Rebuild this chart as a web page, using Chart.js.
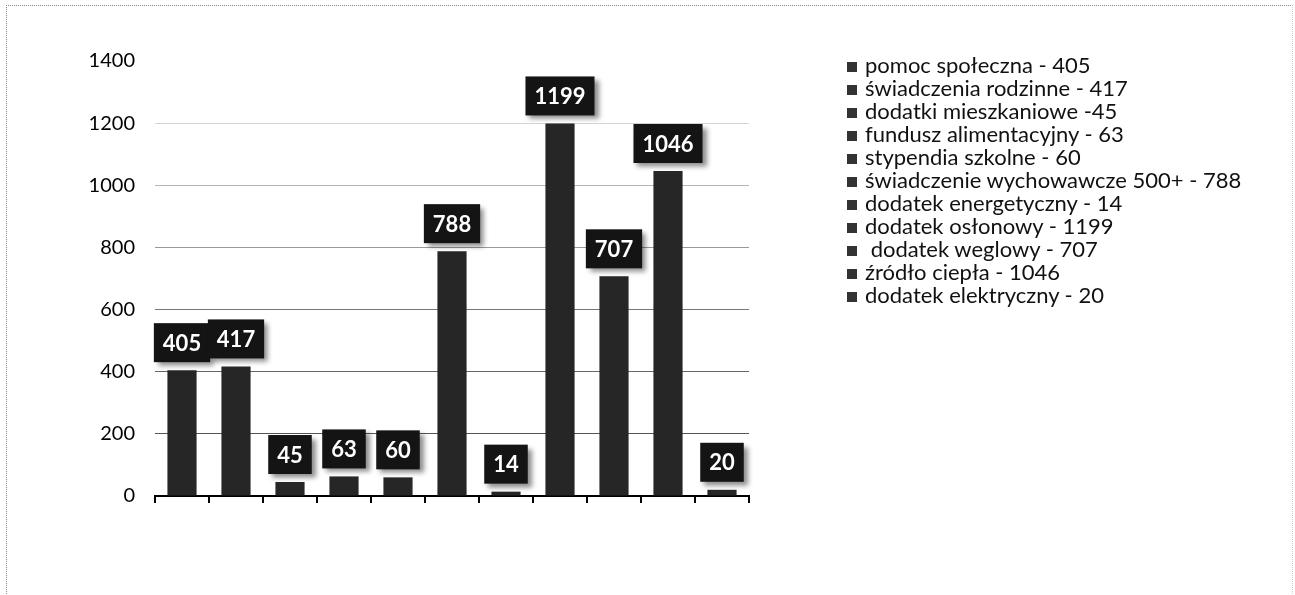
<!DOCTYPE html>
<html>
<head>
<meta charset="utf-8">
<script src="https://cdn.jsdelivr.net/npm/chart.js@4"></script>
<style>
html, body { margin: 0; padding: 0; background: #fff; }
#wrap { position: relative; width: 1295px; height: 595px; overflow: hidden; }
#frame { position: absolute; left: 6px; top: 5px; width: 1285px; height: 620px;
  border-top: 1px dotted #888; border-left: 1px dotted #888; border-right: 1px dotted #ccc; }
canvas { position: absolute; left: 0; top: 0; }
#legend { position: absolute; left: 847px; top: 53px; font-family: Lato, sans-serif;
  font-size: 22px; line-height: 23px; color: #111; white-space: pre; }
#legend .sw { display: inline-block; width: 10px; height: 10px; background: #333;
  margin-right: 8px; vertical-align: 1px; }
</style>
</head>
<body>
<div id="wrap">
  <div id="frame"></div>
  <canvas id="chart" width="1295" height="595"></canvas>
  <div id="legend"></div>
</div>
<script>
// dane z wykresu
const categories = [
  'pomoc społeczna - 405',
  'świadczenia rodzinne - 417',
  'dodatki mieszkaniowe -45',
  'fundusz alimentacyjny - 63',
  'stypendia szkolne - 60',
  'świadczenie wychowawcze 500+ - 788',
  'dodatek energetyczny - 14',
  'dodatek osłonowy - 1199',
  ' dodatek weglowy - 707',
  'źródło ciepła - 1046',
  'dodatek elektryczny - 20'
];
const values = [405, 417, 45, 63, 60, 788, 14, 1199, 707, 1046, 20];
const yTicks = [0, 200, 400, 600, 800, 1000, 1200, 1400];

// szare linie siatki, jak na skanie (0 i 1400 bez linii)
const gridColors = {0: 'rgba(0,0,0,0)', 200: '#555', 400: '#666', 600: '#777',
  800: '#999', 1000: '#b5b5b5', 1200: '#d5d5d5', 1400: 'rgba(0,0,0,0)'};

// legenda
const legendEl = document.getElementById('legend');
categories.forEach(function (c) {
  const row = document.createElement('div');
  const sw = document.createElement('span');
  sw.className = 'sw';
  row.appendChild(sw);
  row.appendChild(document.createTextNode(c));
  legendEl.appendChild(row);
});

// etykiety w czarnych ramkach nad slupkami
const labelBoxes = {
  id: 'labelBoxes',
  afterDatasetsDraw(chart) {
    const ctx = chart.ctx;
    const meta = chart.getDatasetMeta(0);
    ctx.save();
    ctx.font = 'bold 22px Lato';
    ctx.textAlign = 'center';
    ctx.textBaseline = 'middle';
    meta.data.forEach(function (bar, i) {
      const txt = String(values[i]);
      const w = ctx.measureText(txt).width + 18;
      const h = 39;
      const x = bar.x - w / 2;
      const y = bar.y - 8 - h;
      ctx.shadowColor = 'rgba(0,0,0,0.45)';
      ctx.shadowBlur = 5;
      ctx.shadowOffsetX = 4;
      ctx.shadowOffsetY = 4;
      ctx.fillStyle = '#141414';
      ctx.fillRect(x, y, w, h);
      ctx.shadowColor = 'rgba(0,0,0,0)';
      ctx.fillStyle = '#fff';
      ctx.fillText(txt, bar.x, y + h / 2 + 1);
    });
    ctx.restore();
  }
};

const ctx = document.getElementById('chart').getContext('2d');
new Chart(ctx, {
  type: 'bar',
  data: {
    labels: categories,
    datasets: [{
      data: values,
      backgroundColor: '#262626',
      barPercentage: 0.54,
      categoryPercentage: 1
    }]
  },
  options: {
    responsive: false,
    animation: false,
    layout: { padding: { top: 61, right: 546, left: 0, bottom: 0 } },
    plugins: { legend: { display: false }, tooltip: { enabled: false } },
    scales: {
      x: {
        grid: { offset: true, drawOnChartArea: false, drawTicks: true, tickLength: 7,
          color: '#000', lineWidth: 2 },
        border: { display: true, color: '#000', width: 2 },
        ticks: { display: false },
        afterFit: function (s) { s.height = 99; }
      },
      y: {
        min: 0,
        max: 1400,
        afterBuildTicks: function (s) { s.ticks = yTicks.map(v => ({ value: v })); },
        ticks: { padding: 20, color: '#000', font: { family: 'Lato', size: 20 },
          callback: function (v) { return String(v); } },
        grid: { drawTicks: false, lineWidth: 1,
          color: function (c) { return gridColors[c.tick.value] || '#999'; } },
        border: { display: false },
        afterFit: function (s) { s.width = 155; }
      }
    }
  },
  plugins: [labelBoxes]
});
</script>
</body>
</html>
